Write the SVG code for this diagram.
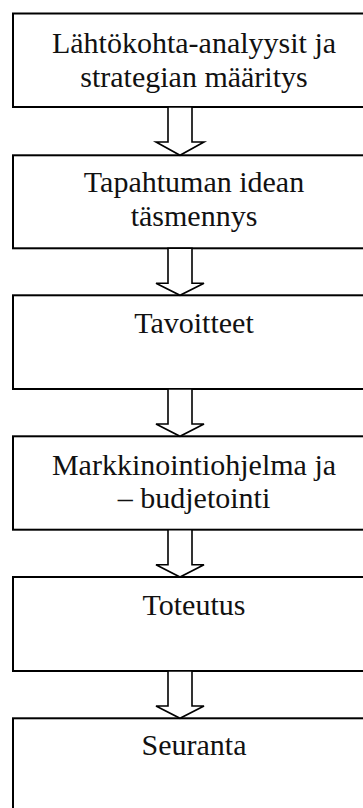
<svg xmlns="http://www.w3.org/2000/svg" width="363" height="808" viewBox="0 0 363 808">
<style>
.box{fill:#fff;stroke:#000;stroke-width:2}
.arr{fill:#fff;stroke:#000;stroke-width:1.6;stroke-linejoin:miter}
.t{font-family:"Liberation Serif","Times New Roman",serif;font-size:30px;fill:#111;text-anchor:middle}
</style>
<rect x="0" y="0" width="363" height="808" fill="#fff"/>
<g id="n1"><rect class="box" x="13" y="13.5" width="370" height="93.5"/><text class="t" x="194" y="53">Lähtökohta-analyysit ja</text><text class="t" x="194" y="87">strategian määritys</text></g>
<g id="n2"><rect class="box" x="13" y="155.3" width="370" height="93"/><text class="t" x="194" y="192">Tapahtuman idean</text><text class="t" x="194" y="226">täsmennys</text></g>
<g id="n3"><rect class="box" x="13" y="295.3" width="370" height="93.7"/><text class="t" x="194" y="333">Tavoitteet</text></g>
<g id="n4"><rect class="box" x="13" y="436.3" width="370" height="93.4"/><text class="t" x="194" y="475">Markkinointiohjelma ja</text><text class="t" x="194" y="508">– budjetointi</text></g>
<g id="n5"><rect class="box" x="13" y="577" width="370" height="94"/><text class="t" x="194" y="615">Toteutus</text></g>
<g id="n6"><rect class="box" x="13" y="718.3" width="370" height="120"/><text class="t" x="194" y="755">Seuranta</text></g>
<g id="connectors">
<polygon class="arr" points="168,107 168,142 156,142 180,155.3 204,142 192,142 192,107"/>
<polygon class="arr" points="168,248.3 168,283.3 156,283.3 180,295.3 204,283.3 192,283.3 192,248.3"/>
<polygon class="arr" points="168,389 168,424 156,424 180,436.3 204,424 192,424 192,389"/>
<polygon class="arr" points="168,529.7 168,564.7 156,564.7 180,577 204,564.7 192,564.7 192,529.7"/>
<polygon class="arr" points="168,671 168,706 156,706 180,718.3 204,706 192,706 192,671"/>
</g>
</svg>
